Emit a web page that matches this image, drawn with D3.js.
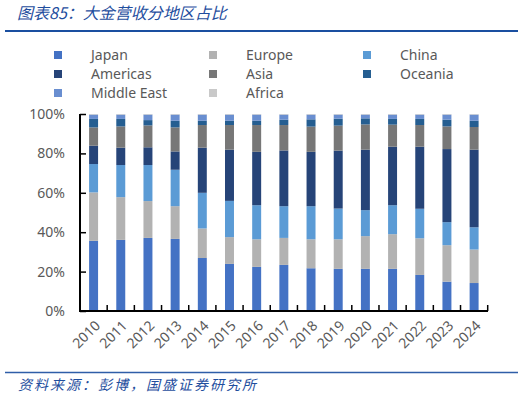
<!DOCTYPE html>
<html>
<head>
<meta charset="utf-8">
<script src="https://cdn.jsdelivr.net/npm/d3@7/dist/d3.min.js"></script>
<style>
  html, body { margin: 0; padding: 0; background: #fff; }
  svg { display: block; }
</style>
</head>
<body>
<svg id="chart" width="526" height="398"></svg>
<script>
const years = ["2010","2011","2012","2013","2014","2015","2016","2017","2018","2019","2020","2021","2022","2023","2024"];
const seriesNames = ["Japan","Europe","China","Americas","Asia","Oceania","Middle East","Africa"];
const japan      = [35.6,36.1,37.1,36.6,26.9,23.9,22.4,23.4,21.7,21.4,21.4,21.4,18.3,14.9,14.2];
const europe     = [24.6,21.7,18.7,16.6,15.0,13.6,14.0,13.7,14.7,15.0,16.6,17.6,18.6,18.5,17.0];
const china      = [14.4,16.3,18.3,18.5,18.1,18.4,17.3,16.1,16.8,15.6,13.2,14.7,15.0,11.7,11.3];
const americas   = [9.3,8.8,9.0,9.3,22.9,26.0,27.1,28.3,27.6,29.4,30.7,29.7,31.5,37.1,39.4];
const asia       = [9.3,10.8,11.1,12.2,11.5,12.5,13.6,12.9,12.8,12.7,12.8,11.2,11.0,11.5,11.5];
const oceania    = [4.3,3.8,2.7,3.4,2.2,2.2,2.2,2.7,3.7,3.5,3.1,2.9,3.1,3.4,3.2];
const middleEast = [2.2,2.2,2.8,3.1,3.1,3.1,3.1,2.6,2.4,2.1,1.9,2.2,2.2,2.6,3.1];
const africa     = [0.3,0.3,0.3,0.3,0.3,0.3,0.3,0.3,0.3,0.3,0.3,0.3,0.3,0.3,0.3];
const yTicks = [0,20,40,60,80,100];
const titleText = "图表85：大金营收分地区占比";
const sourceText = "资料来源：彭博，国盛证券研究所";

const seriesValues = [japan, europe, china, americas, asia, oceania, middleEast, africa];
const colors = ["#4472C4","#B2B2B2","#5B9BD5","#264478","#777777","#255E91","#698ED0","#C9C9C9"];

const table = years.map((y, i) => {
  const row = { year: y };
  seriesNames.forEach((s, k) => row[s] = seriesValues[k][i]);
  return row;
});

const svg = d3.select("#chart");
const blue = "#1F4E9E";
const gray = "#595959";
const font = "'Noto Sans', 'DejaVu Sans', sans-serif";
const cjk = "'Noto Sans CJK SC', sans-serif";

// Title
svg.append("text").attr("x", 17).attr("y", 19)
  .attr("font-family", cjk).attr("font-size", 16).attr("font-style", "italic")
  .attr("fill", blue).text(titleText);
svg.append("line").attr("x1", 5).attr("x2", 518).attr("y1", 31).attr("y2", 31)
  .attr("stroke", "#1A4FA0").attr("stroke-width", 2);

// Legend
const legendCols = [54, 209, 363];
const legendRows = [55, 74, 93];
seriesNames.forEach((s, k) => {
  const cx = legendCols[k % 3], cy = legendRows[Math.floor(k / 3)];
  const g = svg.append("g").attr("transform", `translate(${cx},${cy})`);
  g.append("rect").attr("x", 0).attr("y", -4).attr("width", 8).attr("height", 8).attr("fill", colors[k]);
  g.append("text").attr("x", 37).attr("y", 5).attr("font-family", font).attr("font-size", 14)
    .attr("fill", gray).text(s);
});

// Scales
const x = d3.scaleBand().domain(years).range([80, 487.7]).paddingInner(0.67).paddingOuter(0.335);
const y = d3.scaleLinear().domain([0, 100]).range([311, 114]);

const stack = d3.stack().keys(seriesNames);
const stacked = stack(table);

const bars = svg.append("g");
stacked.forEach((layer, k) => {
  bars.append("g").attr("fill", colors[k])
    .selectAll("rect").data(layer).join("rect")
    .attr("x", d => x(d.data.year))
    .attr("width", x.bandwidth())
    .attr("y", d => y(d[1]))
    .attr("height", d => y(d[0]) - y(d[1]));
});

// Y axis
const yAxis = d3.axisLeft(y).tickValues(yTicks).tickFormat(d => d + "%").tickSize(-6).tickPadding(15);
const gy = svg.append("g").attr("transform", "translate(80,0)").call(yAxis);
gy.select(".domain").attr("stroke", "#000").attr("stroke-width", 2).attr("d", `M0,${y(100)}V${y(0)}`);
gy.selectAll(".tick line").attr("stroke", "#000").attr("stroke-width", 1.5);
gy.selectAll(".tick text").attr("font-family", font).attr("font-size", 14).attr("fill", gray);

// X axis line and boundary ticks
const gx = svg.append("g");
gx.append("line").attr("x1", 79).attr("x2", 488).attr("y1", y(0)).attr("y2", y(0))
  .attr("stroke", "#000").attr("stroke-width", 2);
gx.selectAll("line.bt").data(years).join("line").attr("class", "bt")
  .attr("x1", d => x(d) + x.bandwidth() / 2 + x.step() / 2)
  .attr("x2", d => x(d) + x.bandwidth() / 2 + x.step() / 2)
  .attr("y1", y(0)).attr("y2", y(0) - 6)
  .attr("stroke", "#000").attr("stroke-width", 1.5);
gx.selectAll("text").data(years).join("text")
  .attr("transform", d => `translate(${x(d) + x.bandwidth() / 2 + 4},${y(0) + 12}) rotate(-45)`)
  .attr("text-anchor", "end").attr("dy", "0.35em")
  .attr("font-family", font).attr("font-size", 14).attr("fill", gray)
  .text(d => d);

// Source
svg.append("line").attr("x1", 5).attr("x2", 518).attr("y1", 372.5).attr("y2", 372.5)
  .attr("stroke", "#2F5EA8").attr("stroke-width", 1.5);
svg.append("text").attr("x", 18).attr("y", 390)
  .attr("font-family", cjk).attr("font-size", 14).attr("font-style", "italic")
  .attr("letter-spacing", 2).attr("fill", blue).text(sourceText);
</script>
</body>
</html>
